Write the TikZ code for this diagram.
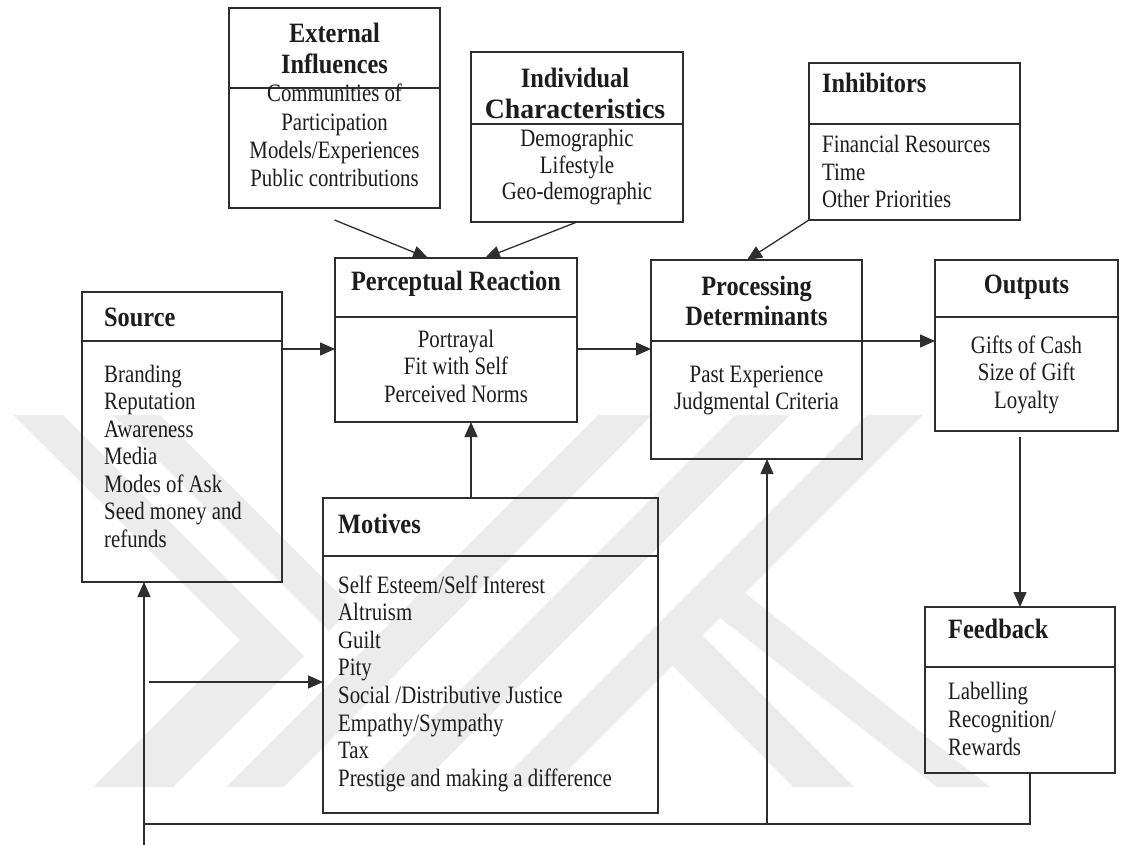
\documentclass[tikz,border=0pt]{standalone}
\usepackage{fontspec}
\newfontfamily\bodyface{Liberation Serif}[FakeStretch=0.833]
\newfontfamily\headface{Liberation Serif}[FakeStretch=0.87]
\usetikzlibrary{arrows.meta,calc}

% text helpers: a block of lines whose baseline is the first line
\newcommand{\txtblock}[2]{\begin{tabular}[t]{@{}#1@{}}#2\end{tabular}}
\newcommand{\itemfnt}[1][27.5]{\bodyface\fontsize{25}{#1}\selectfont}
\newcommand{\headfnt}{\headface\bfseries\fontsize{28}{30.5}\selectfont}

\definecolor{linec}{HTML}{2E2E2E}
\definecolor{inkc}{HTML}{1C1C1C}
\definecolor{markc}{HTML}{ECECEC}

\begin{document}
\begin{tikzpicture}[x=1pt,y=-1pt,
  panel/.style={draw=linec, line width=1.5pt, rectangle, inner sep=0pt,
                outer sep=0pt, anchor=north west},
  rule/.style={draw=linec, line width=1.5pt},
  link/.style={draw=linec, line width=1.3pt},
  arr/.style={link, -{Triangle[length=15pt,width=13pt]}},
  hd/.style={inner sep=0pt, text=inkc, font=\headfnt},
  bd/.style={inner sep=0pt, text=inkc},
  emblem/.style={fill=markc, draw=none}]

\useasboundingbox (0,0) rectangle (1121,845);
\fill[white] (0,0) rectangle (1121,845);

% faint background emblem: chevrons on the left, slanted bars and legs
\fill[emblem] (13,415) -- (63,415) -- (304,656) -- (173,787) -- (93,787) -- (240,640) -- cycle;
\fill[emblem] (113,415) -- (160,415) -- (352,607) -- (329,631) -- cycle;
\fill[emblem] (598,415) -- (652,415) -- (284,787) -- (226,787) -- cycle;
\fill[emblem] (735,415) -- (790,415) -- (418,787) -- (363,787) -- cycle;
\fill[emblem] (867,415) -- (923,415) -- (551,787) -- (495,787) -- cycle;
\fill[emblem] (670,663) -- (700,633) -- (854,787) -- (793,787) -- cycle;
\fill[emblem] (720,618) -- (745,593) -- (990,787) -- (937,787) -- cycle;

% ---------- boxes ----------
\node[panel, minimum width=211pt, minimum height=200pt] (ext)  at (229,8)   {};
\node[panel, minimum width=212pt, minimum height=170pt] (ind)  at (471,52)  {};
\node[panel, minimum width=211pt, minimum height=157pt] (inh)  at (809,63)  {};
\node[panel, minimum width=242pt, minimum height=164pt] (perc) at (335,258) {};
\node[panel, minimum width=200pt, minimum height=290pt] (src)  at (82,292)  {};
\node[panel, minimum width=211pt, minimum height=199pt] (proc) at (651,260) {};
\node[panel, minimum width=183pt, minimum height=171pt] (out)  at (935,260) {};
\node[panel, minimum width=335pt, minimum height=315pt] (mot)  at (323,498) {};
\node[panel, minimum width=190pt, minimum height=166pt] (fb)   at (925,607) {};

% header dividers
\draw[rule] (ext.west  |- 0,88)  -- (ext.east  |- 0,88);
\draw[rule] (ind.west  |- 0,124) -- (ind.east  |- 0,124);
\draw[rule] (inh.west  |- 0,124) -- (inh.east  |- 0,124);
\draw[rule] (perc.west |- 0,317) -- (perc.east |- 0,317);
\draw[rule] (src.west  |- 0,341) -- (src.east  |- 0,341);
\draw[rule] (proc.west |- 0,341) -- (proc.east |- 0,341);
\draw[rule] (out.west  |- 0,317) -- (out.east  |- 0,317);
\draw[rule] (mot.west  |- 0,556) -- (mot.east  |- 0,556);
\draw[rule] (fb.west   |- 0,667) -- (fb.east   |- 0,667);

% ---------- headings ----------
\node[hd, anchor=base] (extH)  at (334.5,43) {\txtblock{c}{External\\Influences}};
\node[hd, anchor=base] (indH)  at (575,88)
  {\txtblock{c}{Individual\\\scalebox{1.14}[1]{Characteristics}}};
\node[hd, anchor=base west] (inhH) at (822,93) {Inhibitors};
\node[hd, anchor=base] (percH) at (456,290)  {Perceptual Reaction};
\node[hd, anchor=base west] (srcH) at (104,326) {Source};
\node[hd, anchor=base] (procH) at (756.5,295) {\txtblock{c}{Processing\\Determinants}};
\node[hd, anchor=base] (outH)  at (1026.5,293) {Outputs};
\node[hd, anchor=base west] (motH) at (338,533) {Motives};
\node[hd, anchor=base west] (fbH)  at (948,638) {Feedback};

% ---------- contents ----------
\node[bd, anchor=base] (extB) at (334.5,102)
  {\itemfnt[28.3]\txtblock{c}{Communities of\\Participation\\Models/Experiences\\Public contributions}};
\node[bd, anchor=base] (indB) at (577,147)
  {\itemfnt[26.5]\txtblock{c}{Demographic\\Lifestyle\\Geo-demographic}};
\node[bd, anchor=base west] (inhB) at (822,153)
  {\itemfnt\txtblock{l}{Financial Resources\\Time\\Other Priorities}};
\node[bd, anchor=base] (percB) at (456,347)
  {\itemfnt\txtblock{c}{Portrayal\\Fit with Self\\Perceived Norms}};
\node[bd, anchor=base west] (srcB) at (104,382)
  {\itemfnt\txtblock{l}{Branding\\Reputation\\Awareness\\Media\\Modes of Ask\\Seed money and\\refunds}};
\node[bd, anchor=base] (procB) at (756.5,382)
  {\itemfnt\txtblock{c}{Past Experience\\Judgmental Criteria}};
\node[bd, anchor=base] (outB) at (1026.5,353)
  {\itemfnt\txtblock{c}{Gifts of Cash\\Size of Gift\\Loyalty}};
\node[bd, anchor=base west] (motB) at (338,593)
  {\itemfnt[27.6]\txtblock{l}{Self Esteem/Self Interest\\Altruism\\Guilt\\Pity\\Social /Distributive Justice\\Empathy/Sympathy\\Tax\\Prestige and making a difference}};
\node[bd, anchor=base west] (fbB) at (948,699)
  {\itemfnt[28]\txtblock{l}{Labelling\\Recognition/\\Rewards}};

% ---------- connectors ----------
\draw[arr] ($(ext.south)+(0,12)$) -- ($(perc.north west)+(93,0)$);
\draw[arr] (ind.south) -- ($(perc.north west)+(150,0)$);
\draw[arr] (inh.south west) -- ($(proc.north west)+(96,0)$);

\draw[arr] (src.east |- 0,349)  -- (perc.west |- 0,349);
\draw[arr] (perc.east |- 0,349) -- (proc.west |- 0,349);
\draw[arr] (proc.east |- 0,341) -- (out.west |- 0,341);

\draw[arr] (471,0 |- mot.north) -- (471,0 |- perc.south);
\draw[arr] ($(out.south -| 1020,0)+(0,6)$) -- (1020,0 |- fb.north);

% feedback loop back to source and processing
\coordinate (loopR) at (1030,824);
\coordinate (loopL) at (144,824);
\coordinate (loopFoot) at (144,845);
\coordinate (loopMid) at (767,824);
\coordinate (toMot) at (149,682);
\draw[link] (fb.south -| loopR) -- (loopR) -- (loopL);
\draw[arr] (loopFoot) -- (src.south -| loopFoot);
\draw[arr] (loopMid) -- (proc.south -| loopMid);
\draw[arr] (toMot) -- (mot.west |- toMot);

\end{tikzpicture}
\end{document}
